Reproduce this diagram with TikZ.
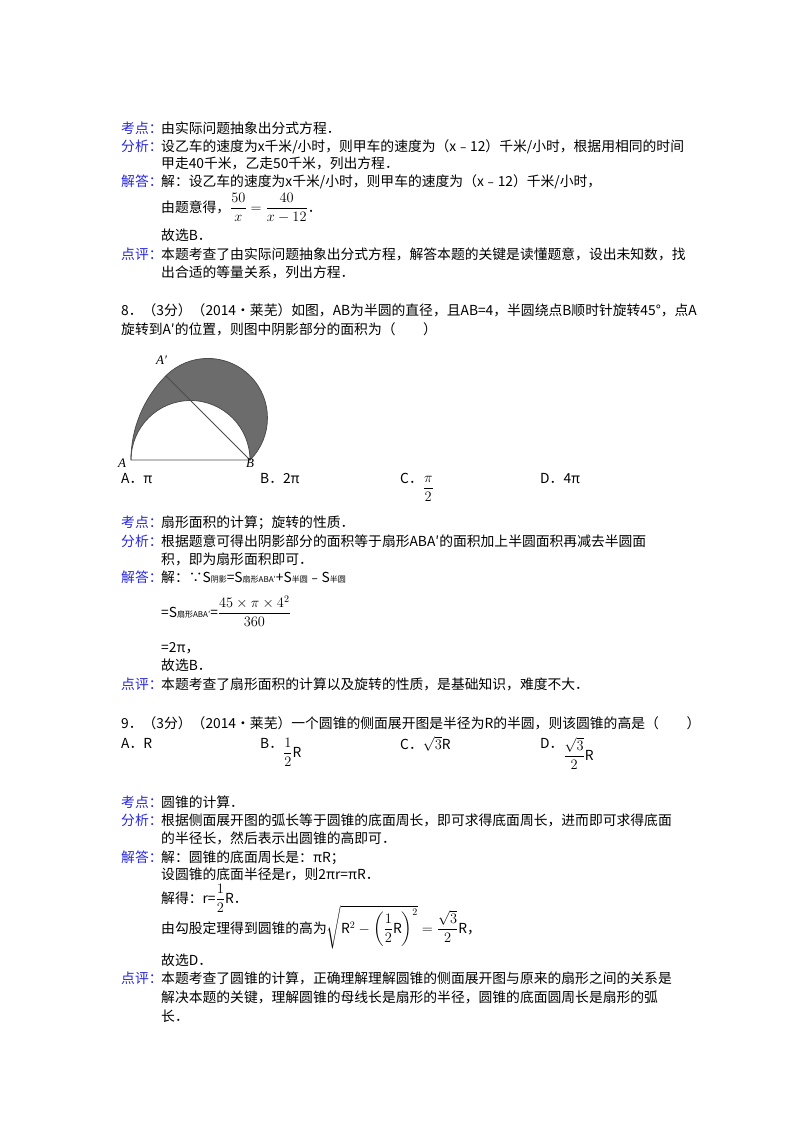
\documentclass[tikz,border=0pt]{standalone}
\usepackage{amsmath}
\usepackage{fontspec}
\setmainfont{Noto Sans CJK SC}
\begin{document}
\begin{tikzpicture}[x=1pt,y=-1pt,
  txt/.style={anchor=base west,inner sep=0pt,font=\fontsize{13.8}{16}\selectfont},
  lab/.style={txt,text={rgb,255:red,40;green,40;blue,220}}]
\useasboundingbox (0,0) rectangle (800,1132);
\newcommand\Lb[3]{\node[lab] (l#1) at (121,#2) {#3};}
\newcommand\Tx[4]{\node[txt] (t#1) at (#2,#3) {#4};}
\newcommand\Low[1]{\raisebox{-9pt}{#1}}
% block 7
\Lb{a}{133}{考点：}\Tx{a}{161}{133}{由实际问题抽象出分式方程．}
\Lb{b}{151}{分析：}\Tx{b}{161}{151}{设乙车的速度为x千米/小时，则甲车的速度为（x﹣12）千米/小时，根据用相同的时间}
\Tx{c}{161}{168}{甲走40千米，乙走50千米，列出方程．}
\Lb{d}{186}{解答：}\Tx{d}{161}{186}{解：设乙车的速度为x千米/小时，则甲车的速度为（x﹣12）千米/小时，}
\Tx{e}{161}{212}{由题意得，$\dfrac{50}{x}=\dfrac{40}{x-12}$．}
\Tx{f}{161}{240}{故选B．}
\Lb{g}{259}{点评：}\Tx{g}{161}{259}{本题考查了由实际问题抽象出分式方程，解答本题的关键是读懂题意，设出未知数，找}
\Tx{h}{161}{277}{出合适的等量关系，列出方程．}
% block 8
\Tx{i}{121}{315}{8．（3分）（2014•莱芜）如图，AB为半圆的直径，且AB=4，半圆绕点B顺时针旋转45°，点A}
\Tx{j}{121}{334}{旋转到A′的位置，则图中阴影部分的面积为（　　）}
% figure
\coordinate (A) at (131,460);
\coordinate (B) at (250,460);
\coordinate (Ap) at (165.9,375.9);
\fill[gray!85!black] (A) arc[start angle=180,end angle=225,radius=119]
  arc[start angle=225,end angle=405,radius=59.5]
  arc[start angle=0,end angle=-180,radius=59.5];
\draw[gray!60!black,line width=0.8pt] (A) arc[start angle=180,end angle=225,radius=119]
  arc[start angle=225,end angle=405,radius=59.5];
\draw[gray!60!black,line width=0.8pt] (B) arc[start angle=0,end angle=-180,radius=59.5] -- (B) -- (Ap);
\node[txt,font=\fontsize{13}{14}\selectfont\itshape\fontspec{Liberation Serif}] (nA) at (118,467) {A};
\node[txt,font=\fontsize{13}{14}\selectfont\itshape\fontspec{Liberation Serif}] (nB) at (246,467) {B};
\node[txt,font=\fontsize{13}{14}\selectfont\itshape\fontspec{Liberation Serif}] (nAp) at (156,364) {A′};
\Tx{k1}{121}{483}{A．π}\Tx{k2}{260}{483}{B．2π}\Tx{k3}{400}{483}{C．\Low{$\dfrac{\pi}{2}$}}\Tx{k4}{540}{483}{D．4π}
\Lb{m}{527}{考点：}\Tx{m}{161}{527}{扇形面积的计算；旋转的性质．}
\Lb{n}{546}{分析：}\Tx{n}{161}{546}{根据题意可得出阴影部分的面积等于扇形ABA′的面积加上半圆面积再减去半圆面}
\Tx{o}{161}{564}{积，即为扇形面积即可．}
\Lb{p}{582}{解答：}\Tx{p}{161}{582}{解：∵S{\fontsize{8}{9}\selectfont 阴影}=S{\fontsize{8}{9}\selectfont 扇形ABA′}+S{\fontsize{8}{9}\selectfont 半圆}﹣S{\fontsize{8}{9}\selectfont 半圆}}
\Tx{q}{161}{617}{=S{\fontsize{8}{9}\selectfont 扇形ABA′}=$\dfrac{45\times\pi\times4^2}{360}$}
\Tx{r}{161}{652}{=2π，}
\Tx{s}{161}{670}{故选B．}
\Lb{u}{689}{点评：}\Tx{u}{161}{689}{本题考查了扇形面积的计算以及旋转的性质，是基础知识，难度不大．}
% block 9
\Tx{v}{121}{728}{9．（3分）（2014•莱芜）一个圆锥的侧面展开图是半径为R的半圆，则该圆锥的高是（　　）}
\Tx{w1}{121}{748}{A．R}\Tx{w2}{260}{748}{B．\Low{$\dfrac{1}{2}$R}}\Tx{w3}{400}{749}{C．$\sqrt{3}$R}\Tx{w4}{540}{748}{D．\raisebox{-12pt}{$\dfrac{\sqrt{3}}{2}$R}}
\Lb{x}{807}{考点：}\Tx{x}{161}{807}{圆锥的计算．}
\Lb{y}{825}{分析：}\Tx{y}{161}{825}{根据侧面展开图的弧长等于圆锥的底面周长，即可求得底面周长，进而即可求得底面}
\Tx{z}{161}{843}{的半径长，然后表示出圆锥的高即可．}
\Lb{aa}{862}{解答：}\Tx{aa}{161}{862}{解：圆锥的底面周长是：πR；}
\Tx{ab}{161}{879}{设圆锥的底面半径是r，则2πr=πR．}
\Tx{ac}{161}{903}{解得：r=$\dfrac{1}{2}$R．}
\Tx{ad}{161}{933}{由勾股定理得到圆锥的高为$\sqrt{\mathrm{R}^2-\left(\dfrac{1}{2}\mathrm{R}\right)^2}=\dfrac{\sqrt{3}}{2}$R，}
\Tx{ae}{161}{965}{故选D．}
\Lb{af}{983}{点评：}\Tx{af}{161}{983}{本题考查了圆锥的计算，正确理解理解圆锥的侧面展开图与原来的扇形之间的关系是}
\Tx{ag}{161}{1002}{解决本题的关键，理解圆锥的母线长是扇形的半径，圆锥的底面圆周长是扇形的弧}
\Tx{ah}{161}{1021}{长．}
\end{tikzpicture}
\end{document}
